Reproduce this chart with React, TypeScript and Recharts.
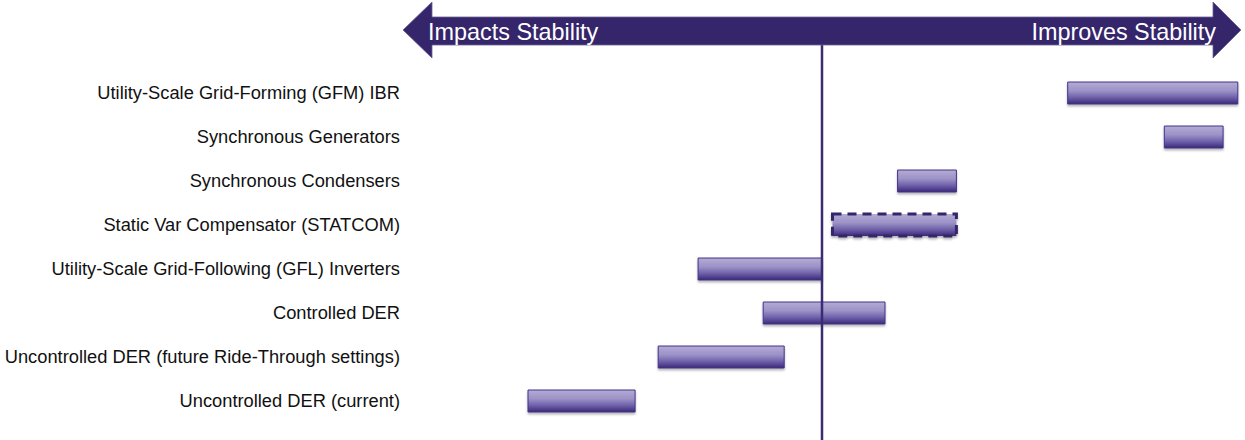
import React from 'react';
import { BarChart, Bar, XAxis, YAxis, ReferenceLine, Cell } from 'recharts';

// Technologies, top to bottom
const categories = [
  'Utility-Scale Grid-Forming (GFM) IBR',
  'Synchronous Generators',
  'Synchronous Condensers',
  'Static Var Compensator (STATCOM)',
  'Utility-Scale Grid-Following (GFL) Inverters',
  'Controlled DER',
  'Uncontrolled DER (future Ride-Through settings)',
  'Uncontrolled DER (current)',
];

// Stability impact range on a -10 (impacts) .. +10 (improves) scale
const rangeLow = [5.85, 8.15, 1.8, 0.25, -2.95, -1.4, -3.9, -7.0];
const rangeHigh = [9.9, 9.55, 3.2, 3.2, 0, 1.5, -0.9, -4.45];

// Rows whose range is uncertain (drawn with a dashed outline)
const uncertainRows = ['Static Var Compensator (STATCOM)'];

const leftLabel = 'Impacts Stability';
const rightLabel = 'Improves Stability';

const data = categories.map((name, i) => ({
  name,
  span: [rangeLow[i], rangeHigh[i]],
}));

const PURPLE = '#35256a';
const FONT = 'Liberation Sans, Arial, sans-serif';
const W = 1245;
const H = 440;
const AXIS_W = 402;

const DividerLine = (p: any) => (
  <line x1={p.x1} x2={p.x2} y1={45} y2={H} stroke="#3b2b70" strokeWidth={2.5} />
);

export default function App() {
  return (
    <div style={{ position: 'absolute', left: 0, top: 0, width: W, height: H, background: '#fff' }}>
      <BarChart
        width={W}
        height={H}
        data={data}
        layout="vertical"
        margin={{ top: 71, right: 3, bottom: 17, left: 0 }}
        barCategoryGap={0}
      >
        <defs>
          <linearGradient id="barFill" x1="0" y1="0" x2="0" y2="1">
            <stop offset="0" stopColor="#b4acd5" />
            <stop offset="0.4" stopColor="#9c92c6" />
            <stop offset="0.72" stopColor="#6c5da8" />
            <stop offset="1" stopColor="#3a2977" />
          </linearGradient>
          <filter id="barShadow" x="-5%" y="-20%" width="110%" height="160%">
            <feDropShadow dx="0" dy="2" stdDeviation="1.2" floodColor="#000" floodOpacity="0.28" />
          </filter>
        </defs>
        <XAxis type="number" domain={[-10, 10]} hide />
        <YAxis
          type="category"
          dataKey="name"
          width={AXIS_W}
          axisLine={false}
          tickLine={false}
          tickSize={0}
          tickMargin={2}
          interval={0}
          tick={{ fill: '#111', fontSize: 18.3, fontFamily: FONT }}
        />
        <Bar
          dataKey="span"
          barSize={22}
          fill="url(#barFill)"
          stroke="#43338a"
          strokeWidth={1}
          filter="url(#barShadow)"
          isAnimationActive={false}
        >
          {data.map((d) =>
            uncertainRows.includes(d.name) ? (
              <Cell key={d.name} stroke={PURPLE} strokeWidth={3} strokeDasharray="9 6" />
            ) : (
              <Cell key={d.name} />
            )
          )}
        </Bar>
        <ReferenceLine x={0} ifOverflow="visible" shape={DividerLine} />
      </BarChart>
      <svg
        width={W}
        height={62}
        style={{ position: 'absolute', left: 0, top: 0, pointerEvents: 'none' }}
      >
        <path
          d="M403,30 L432,2 L432,17 L1213,17 L1213,2 L1241,30 L1213,58 L1213,45 L432,45 L432,58 Z"
          fill={PURPLE}
          stroke="#6c6093"
          strokeWidth={0.8}
        />
        <text x={428} y={39.5} fill="#fff" fontSize={23.4} fontFamily={FONT}>
          {leftLabel}
        </text>
        <text x={1216} y={39.5} fill="#fff" fontSize={23.4} textAnchor="end" fontFamily={FONT}>
          {rightLabel}
        </text>
      </svg>
    </div>
  );
}
